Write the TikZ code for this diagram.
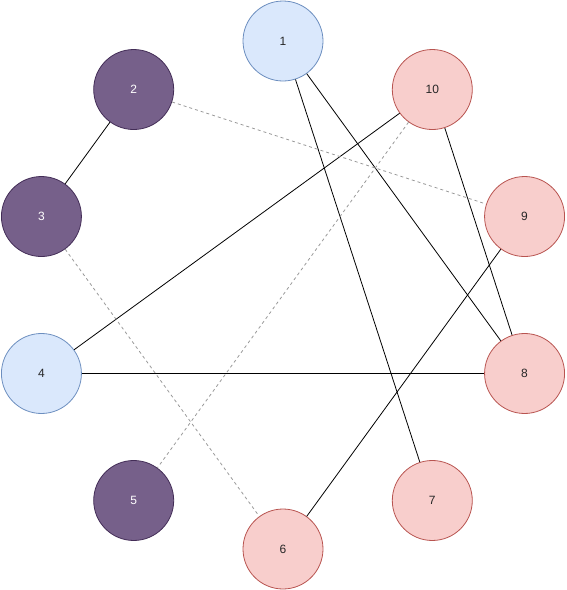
\documentclass[tikz,border=0pt]{standalone}
\usepackage{fontspec}
\setmainfont{Liberation Sans}
\usepackage{xcolor}
\usetikzlibrary{positioning, calc}

\definecolor{bluefill}{HTML}{DAE8FC}
\definecolor{bluedraw}{HTML}{6C8EBF}
\definecolor{purplefill}{HTML}{76608A}
\definecolor{purpledraw}{HTML}{432D57}
\definecolor{redfill}{HTML}{F8CECC}
\definecolor{reddraw}{HTML}{B85450}
\definecolor{dashgray}{HTML}{999999}

\begin{document}
\begin{tikzpicture}[
    x=1pt, y=1pt,
    vertex/.style={circle, line width=0.8pt, minimum size=80pt, inner sep=0pt,
                   font=\fontsize{12}{14}\selectfont},
    bluenode/.style={vertex, draw=bluedraw, fill=bluefill, text=black!85},
    purplenode/.style={vertex, draw=purpledraw, fill=purplefill, text=white},
    rednode/.style={vertex, draw=reddraw, fill=redfill, text=black!85},
    edge/.style={line width=0.8pt, black},
    dashedge/.style={line width=0.8pt, dashgray, dash pattern=on 3pt off 3pt}
  ]
  \useasboundingbox (0,0) rectangle (566,-590);
  \coordinate (mid) at (283,-295);

  % ten nodes round a circle, 36 degrees apart
  \foreach \n/\kind in {1/bluenode, 2/purplenode, 3/purplenode, 4/bluenode,
                        5/purplenode, 6/rednode, 7/rednode, 8/rednode,
                        9/rednode, 10/rednode}
    \node[\kind] (v\n) at ($(mid)+({90+36*(\n-1)}:254)$) {\n};

  \draw[edge] (v2) -- (v3);
  \draw[edge] (v10) -- (v4);
  \draw[edge] (v10) -- (v8);
  \draw[edge] (v1) -- (v8);
  \draw[edge] (v1) -- (v7);
  \draw[edge] (v9) -- (v6);
  \draw[edge] (v4) -- (v8);
  \draw[dashedge] (v2) -- (v9);
  \draw[dashedge] (v3) -- (v6);
  \draw[dashedge] (v10) -- (v5);
\end{tikzpicture}
\end{document}
